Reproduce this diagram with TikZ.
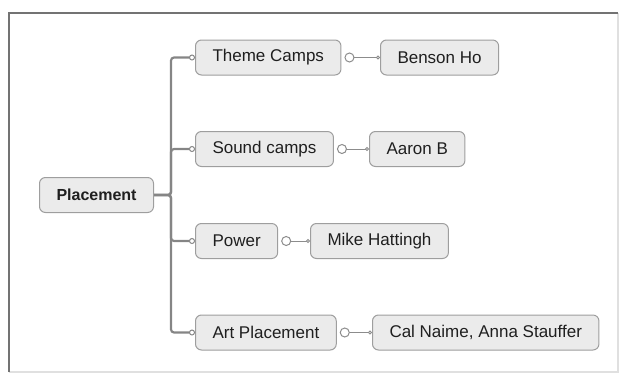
\documentclass[tikz,border=0pt]{standalone}
\usepackage{fontspec}
\setmainfont{Liberation Sans}
\usetikzlibrary{arrows.meta}
\begin{document}
\begin{tikzpicture}[x=1pt,y=-1pt,
  topic/.style={draw=black!38,fill=black!8,rounded corners=6pt,line width=1pt,minimum height=35pt,inner xsep=17pt,anchor=west,text=black!88,font=\fontsize{17}{20}\selectfont},
  branch/.style={draw=black!48,line width=2.2pt,rounded corners=3pt,-{Circle[open,length=6pt,line width=1pt,fill=white]}},
  link/.style={draw=black!45,line width=1pt,shorten <=3pt,{Circle[open,length=10pt,fill=white]}-{Circle[open,length=4pt,fill=white]}}]
\useasboundingbox(0,0)rectangle(622,375);
\draw[black!12,line width=1.5pt](618,13)--(618,372)--(9,372);
\draw[black!55,line width=2pt](9,372)--(9,13)--(618,13);
\node[topic,font=\fontsize{16}{20}\selectfont\bfseries](place)at(39,195){Placement};
\node[topic](theme)at(195,57.5){Theme Camps};\node[topic](sound)at(195,149){Sound camps};\node[topic](power)at(195,241){Power};\node[topic](art)at(195,332.5){Art Placement};
\node[topic](benson)at(380,57.5){Benson Ho};\node[topic](aaron)at(369,149){Aaron B};\node[topic](mike)at(310,241){Mike Hattingh};\node[topic](cal)at(372,332.5){Cal Naime, Anna Stauffer};
\foreach \c in {theme,sound,power,art}{\draw[branch](place.east)--++(17,0)|-(\c.west);}
\draw[link](theme.east)--(benson.west);\draw[link](sound.east)--(aaron.west);\draw[link](power.east)--(mike.west);\draw[link](art.east)--(cal.west);
\end{tikzpicture}
\end{document}
